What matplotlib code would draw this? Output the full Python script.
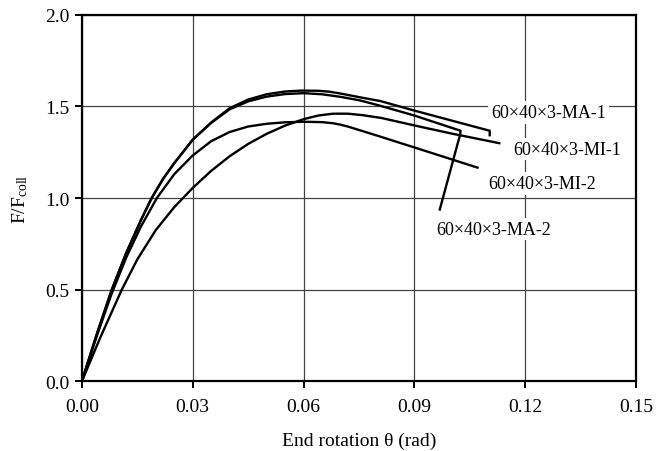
import matplotlib
matplotlib.use("Agg")
import matplotlib.pyplot as plt

plt.rcParams["font.family"] = ["Liberation Serif", "DejaVu Serif"]
plt.rcParams["mathtext.fontset"] = "custom"
plt.rcParams["mathtext.rm"] = "Liberation Serif"
plt.rcParams["mathtext.it"] = "Liberation Serif:italic"

# Normalised load F/Fcoll versus end rotation (rad) for four specimens
ma1_theta = [0, 0.004, 0.008, 0.012, 0.016, 0.0189, 0.022, 0.025, 0.030, 0.035,
             0.040, 0.045, 0.050, 0.055, 0.0595, 0.064, 0.067, 0.070, 0.0754,
             0.0808, 0.090, 0.100, 0.1104, 0.1104]
ma1_load = [0, 0.255, 0.495, 0.70, 0.88, 1.0, 1.105, 1.19, 1.318, 1.412,
            1.49, 1.537, 1.566, 1.581, 1.586, 1.585, 1.58, 1.57, 1.549,
            1.529, 1.477, 1.423, 1.367, 1.336]

ma2_theta = [0, 0.004, 0.008, 0.012, 0.016, 0.0189, 0.022, 0.025, 0.030, 0.035,
             0.040, 0.045, 0.050, 0.055, 0.060, 0.065, 0.070, 0.0754, 0.0808,
             0.090, 0.1025, 0.1024, 0.1019, 0.0968]
ma2_load = [0, 0.255, 0.495, 0.70, 0.88, 1.0, 1.105, 1.19, 1.318, 1.41,
            1.484, 1.527, 1.553, 1.567, 1.572, 1.566, 1.552, 1.532, 1.503,
            1.450, 1.367, 1.345, 1.31, 0.931]

mi1_theta = [0, 0.005, 0.0108, 0.015, 0.020, 0.025, 0.030, 0.035, 0.040, 0.045,
             0.050, 0.055, 0.060, 0.064, 0.068, 0.072, 0.076, 0.081, 0.090,
             0.100, 0.1133]
mi1_load = [0, 0.24, 0.50, 0.665, 0.825, 0.95, 1.055, 1.148, 1.228, 1.295,
            1.35, 1.395, 1.43, 1.45, 1.46, 1.46, 1.452, 1.437, 1.396,
            1.352, 1.298]

mi2_theta = [0, 0.004, 0.008, 0.012, 0.016, 0.0203, 0.025, 0.030, 0.035, 0.040,
             0.045, 0.050, 0.055, 0.060, 0.065, 0.068, 0.070, 0.072, 0.080,
             0.090, 0.1074]
mi2_load = [0, 0.245, 0.475, 0.675, 0.845, 1.0, 1.13, 1.232, 1.31, 1.36,
            1.39, 1.405, 1.413, 1.416, 1.414, 1.408, 1.40, 1.39, 1.34,
            1.276, 1.164]

series_names = ["60×40×3-MA-1", "60×40×3-MI-1", "60×40×3-MI-2", "60×40×3-MA-2"]
label_x = [0.1263, 0.1315, 0.1247, 0.1115]
label_y = [1.467, 1.267, 1.080, 0.831]

x_ticks = [0.00, 0.03, 0.06, 0.09, 0.12, 0.15]
y_ticks = [0.0, 0.5, 1.0, 1.5, 2.0]

fig = plt.figure(figsize=(6.56, 4.52), dpi=100)
ax = fig.add_axes([0.1248, 0.154, 0.9695 - 0.1248, 0.9653 - 0.154])

for th, ld in [(ma1_theta, ma1_load), (ma2_theta, ma2_load),
               (mi1_theta, mi1_load), (mi2_theta, mi2_load)]:
    ax.plot(th, ld, color="black", lw=1.7, solid_joinstyle="round",
            solid_capstyle="butt", zorder=3)

for name, lx, ly in zip(series_names, label_x, label_y):
    ax.text(lx, ly, name, fontsize=13, ha="center", va="center", zorder=4,
            bbox=dict(facecolor="white", edgecolor="none", pad=2))

ax.set_xlim(0, 0.15)
ax.set_ylim(0, 2.0)
ax.set_xticks(x_ticks)
ax.set_xticklabels([f"{v:.2f}" for v in x_ticks])
ax.set_yticks(y_ticks)
ax.set_yticklabels([f"{v:.1f}" for v in y_ticks])
ax.grid(True, color="#444444", lw=0.9, zorder=1)
ax.set_axisbelow(True)

for sp in ax.spines.values():
    sp.set_linewidth(1.6)
    sp.set_color("black")

ax.tick_params(direction="out", length=5, width=1.4, labelsize=14,
               top=False, right=False)
ax.tick_params(axis="x", pad=7)
ax.tick_params(axis="y", pad=4)
ax.set_xlabel("End rotation θ (rad)", fontsize=14, labelpad=12)
ax.set_ylabel("F/F$_{\\mathrm{coll}}$", fontsize=14, labelpad=11)

fig.savefig("out.png", dpi=100)
